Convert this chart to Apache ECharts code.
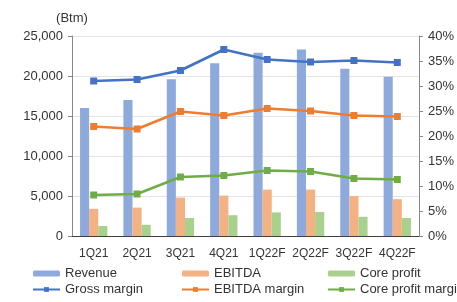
<!DOCTYPE html>
<html>
<head>
<meta charset="utf-8">
<script src="https://cdn.jsdelivr.net/npm/echarts@6/dist/echarts.min.js"></script>
<style>
  html, body { margin: 0; padding: 0; background: #fff; }
  #chart { width: 457px; height: 302px; }
</style>
</head>
<body>
<div id="chart"></div>
<script>
const quarters = ['1Q21', '2Q21', '3Q21', '4Q21', '1Q22F', '2Q22F', '3Q22F', '4Q22F'];
const revenue = [16000, 17000, 19600, 21600, 22900, 23300, 20900, 19900];
const ebitda = [3400, 3550, 4800, 5050, 5800, 5800, 5000, 4600];
const coreProfit = [1250, 1400, 2250, 2600, 2950, 3000, 2400, 2250];
const grossMargin = [31.0, 31.3, 33.1, 37.3, 35.3, 34.8, 35.1, 34.7];
const ebitdaMargin = [21.9, 21.4, 24.9, 24.1, 25.5, 25.0, 24.1, 23.9];
const coreMargin = [8.2, 8.4, 11.8, 12.1, 13.1, 12.9, 11.5, 11.3];

const chart = echarts.init(document.getElementById('chart'));

const font = 'Liberation Sans, Arial, sans-serif';
const legendBase = {
  orient: 'vertical',
  top: 262,
  itemWidth: 27,
  itemHeight: 6,
  itemGap: 3,
  textStyle: { color: '#333', fontSize: 13, fontFamily: font }
};

const lineSeries = (name, data, color) => ({
  name: name,
  type: 'line',
  yAxisIndex: 1,
  data: data,
  symbol: 'rect',
  symbolSize: 7,
  color: color,
  lineStyle: { width: 2.7, color: color },
  itemStyle: { color: color }
});

chart.setOption({
  animation: false,
  textStyle: { fontFamily: font },
  grid: { left: 72, right: 31, top: 36, bottom: 66 },
  legend: [
    Object.assign({ left: 27, data: ['Revenue', 'Gross margin'] }, legendBase),
    Object.assign({ left: 176, data: ['EBITDA', 'EBITDA margin'] }, legendBase),
    Object.assign({ left: 322, data: ['Core profit', 'Core profit margin'] }, legendBase)
  ],
  xAxis: {
    type: 'category',
    data: quarters,
    axisTick: { show: false },
    axisLine: { lineStyle: { color: '#404040', width: 1 } },
    axisLabel: { color: '#333', fontSize: 12, margin: 12, interval: 0 }
  },
  yAxis: [
    {
      type: 'value',
      min: 0,
      max: 25000,
      interval: 5000,
      name: '(Btm)',
      nameLocation: 'end',
      nameGap: 11,
      nameTextStyle: { color: '#333', fontSize: 13, align: 'center' },
      axisLine: { show: true, lineStyle: { color: '#888' } },
      axisTick: { show: true, length: 4, lineStyle: { color: '#888' } },
      axisLabel: {
        color: '#333',
        fontSize: 13,
        margin: 9,
        formatter: v => v.toLocaleString('en-US')
      },
      splitLine: { lineStyle: { color: '#e3e3e3' } }
    },
    {
      type: 'value',
      min: 0,
      max: 40,
      interval: 5,
      position: 'right',
      axisLine: { show: true, lineStyle: { color: '#888' } },
      axisTick: { show: true, length: 4, lineStyle: { color: '#888' } },
      axisLabel: { color: '#333', fontSize: 13, margin: 9, formatter: '{value}%' },
      splitLine: { show: false }
    }
  ],
  series: [
    { name: 'Revenue', type: 'bar', data: revenue, color: '#8eaadc', barGap: 0, barCategoryGap: '37%' },
    { name: 'EBITDA', type: 'bar', data: ebitda, color: '#f4b183' },
    { name: 'Core profit', type: 'bar', data: coreProfit, color: '#a9d18e' },
    lineSeries('Gross margin', grossMargin, '#4472c4'),
    lineSeries('EBITDA margin', ebitdaMargin, '#ed7d31'),
    lineSeries('Core profit margin', coreMargin, '#70ad47')
  ]
});
</script>
</body>
</html>
